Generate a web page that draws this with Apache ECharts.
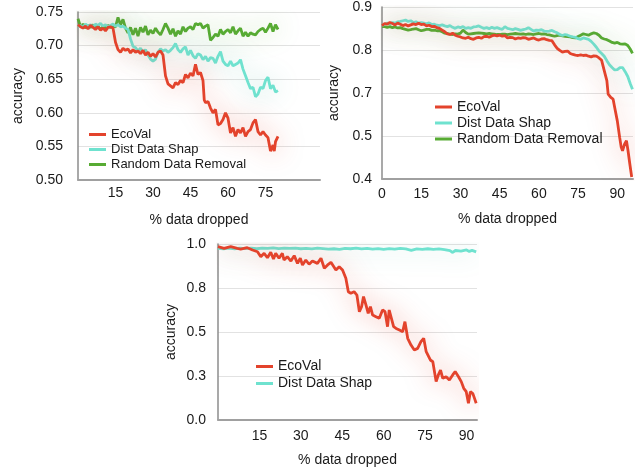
<!DOCTYPE html>
<html>
<head>
<meta charset="utf-8">
<script src="https://cdn.jsdelivr.net/npm/echarts@6/dist/echarts.min.js"></script>
<style>
html,body{margin:0;padding:0;background:#fff;}
#main{width:641px;height:469px;}
</style>
</head>
<body>
<div id="main"></div>
<script>
// ---------- data ----------
const seriesNames = ['EcoVal', 'Dist Data Shap', 'Random Data Removal'];
const xTicksShown1 = [15, 30, 45, 60, 75];
const xTicksShown2 = [0, 15, 30, 45, 60, 75, 90];
const xTicksShown3 = [15, 30, 45, 60, 75, 90];

// chart 1 (top-left)
const c1Eco = [[0,0.731],[1,0.728],[2,0.726],[3,0.729],[4,0.725],[5,0.73],[6,0.727],[7,0.724],[8,0.728],[9,0.723],[10,0.726],[11,0.722],[12,0.727],[13,0.728],[14,0.726],[15,0.705],[16,0.694],[17,0.69],[18,0.696],[19,0.693],[20,0.695],[21,0.689],[22,0.694],[23,0.69],[24,0.692],[25,0.688],[26,0.693],[27,0.686],[28,0.69],[29,0.684],[30,0.688],[31,0.683],[32,0.69],[33,0.692],[34,0.686],[35,0.655],[36,0.643],[37,0.64],[38,0.637],[39,0.645],[40,0.642],[41,0.648],[42,0.645],[43,0.657],[44,0.652],[45,0.659],[46,0.655],[47,0.672],[48,0.657],[49,0.66],[50,0.648],[50.5,0.619],[51,0.615],[52,0.617],[53,0.607],[54,0.6],[55,0.605],[56,0.582],[57,0.584],[58,0.59],[59,0.6],[60,0.592],[61,0.57],[62,0.578],[63,0.565],[64,0.575],[65,0.57],[66,0.578],[67,0.565],[68,0.572],[69,0.575],[70,0.585],[71,0.59],[72,0.572],[73,0.567],[74,0.572],[75,0.567],[76,0.563],[77,0.543],[78,0.552],[78.5,0.543],[79,0.557],[80,0.565]];
const c1Dist = [[0,0.728],[1,0.73],[2,0.727],[3,0.732],[4,0.729],[5,0.731],[6,0.728],[7,0.732],[8,0.73],[9,0.733],[10,0.729],[11,0.731],[12,0.728],[13,0.73],[14,0.732],[15,0.729],[16,0.731],[17,0.728],[18,0.729],[19,0.726],[20,0.724],[21,0.71],[22,0.699],[23,0.697],[24,0.692],[25,0.696],[26,0.69],[27,0.694],[28,0.686],[29,0.68],[30,0.677],[31,0.68],[32,0.69],[33,0.695],[34,0.692],[35,0.694],[36,0.69],[37,0.693],[38,0.697],[39,0.703],[40,0.694],[41,0.69],[42,0.695],[43,0.698],[44,0.686],[45,0.693],[46,0.685],[47,0.681],[48,0.688],[49,0.686],[50,0.679],[51,0.684],[52,0.677],[53,0.682],[54,0.681],[55,0.674],[56,0.684],[57,0.691],[58,0.677],[59,0.672],[60,0.67],[61,0.677],[62,0.67],[63,0.672],[64,0.674],[65,0.679],[66,0.665],[67,0.655],[68,0.645],[69,0.636],[70,0.638],[71,0.624],[72,0.628],[73,0.638],[74,0.636],[75,0.648],[76,0.653],[77,0.636],[78,0.641],[79,0.631],[80,0.633]];
const c1Rand = [[0,0.74],[1,0.728],[2,0.732],[3,0.726],[4,0.73],[5,0.727],[6,0.731],[7,0.725],[8,0.729],[9,0.724],[10,0.728],[11,0.726],[12,0.73],[13,0.727],[14,0.729],[15,0.728],[16,0.742],[17,0.731],[18,0.739],[19,0.726],[20,0.719],[21,0.727],[22,0.716],[23,0.726],[24,0.714],[25,0.727],[26,0.72],[27,0.729],[28,0.716],[29,0.723],[30,0.718],[31,0.726],[32,0.72],[33,0.716],[34,0.724],[35,0.733],[36,0.726],[37,0.717],[38,0.725],[39,0.714],[40,0.722],[41,0.717],[42,0.728],[43,0.721],[44,0.726],[45,0.728],[46,0.724],[47,0.733],[48,0.731],[49,0.733],[50,0.726],[51,0.729],[52,0.731],[53,0.708],[54,0.712],[55,0.717],[56,0.714],[57,0.724],[58,0.717],[59,0.721],[60,0.724],[61,0.719],[62,0.728],[63,0.717],[64,0.722],[65,0.726],[66,0.714],[67,0.72],[68,0.714],[69,0.719],[70,0.717],[71,0.716],[72,0.721],[73,0.724],[74,0.726],[75,0.72],[76,0.726],[77,0.733],[78,0.721],[79,0.731],[80,0.724]];

// chart 2 (top-right)
const c2Eco = [[0,0.846],[1,0.852],[2,0.85],[3,0.855],[4,0.852],[5,0.848],[6,0.853],[7,0.85],[8,0.846],[9,0.849],[10,0.845],[11,0.848],[12,0.851],[13,0.849],[14,0.853],[15,0.849],[16,0.85],[17,0.845],[18,0.847],[19,0.843],[20,0.844],[21,0.84],[22,0.838],[23,0.833],[24,0.828],[25,0.822],[26,0.82],[27,0.824],[28,0.818],[29,0.815],[30,0.813],[31,0.81],[32,0.809],[33,0.812],[34,0.808],[35,0.806],[36,0.81],[37,0.812],[38,0.809],[39,0.814],[40,0.815],[41,0.812],[42,0.816],[43,0.818],[44,0.816],[45,0.818],[46,0.815],[47,0.817],[48,0.81],[49,0.812],[50,0.811],[51,0.807],[52,0.81],[53,0.809],[54,0.811],[55,0.81],[56,0.806],[57,0.808],[58,0.81],[59,0.806],[60,0.804],[61,0.807],[62,0.808],[63,0.805],[64,0.803],[65,0.802],[66,0.79],[67,0.78],[68,0.774],[69,0.769],[70,0.771],[71,0.772],[72,0.765],[73,0.762],[74,0.76],[75,0.759],[76,0.761],[77,0.759],[78,0.76],[79,0.757],[80,0.755],[81,0.758],[82,0.757],[83,0.752],[84,0.745],[85,0.715],[86,0.686],[86.5,0.647],[87.5,0.637],[88.4,0.632],[89,0.608],[90,0.569],[90.9,0.521],[91.5,0.492],[92,0.482],[92.8,0.502],[93.5,0.511],[94.1,0.482],[94.8,0.443],[95.5,0.406]];
const c2Dist = [[0,0.846],[1,0.85],[2,0.853],[3,0.851],[4,0.855],[5,0.853],[6,0.857],[7,0.858],[8,0.86],[9,0.862],[10,0.858],[11,0.86],[12,0.855],[13,0.857],[14,0.853],[15,0.855],[16,0.853],[17,0.851],[18,0.854],[19,0.849],[20,0.85],[21,0.847],[22,0.846],[23,0.848],[24,0.845],[25,0.843],[26,0.846],[27,0.841],[28,0.838],[29,0.842],[30,0.84],[31,0.843],[32,0.838],[33,0.84],[34,0.838],[35,0.842],[36,0.843],[37,0.845],[38,0.841],[39,0.838],[40,0.84],[41,0.837],[42,0.841],[43,0.838],[44,0.84],[45,0.837],[46,0.835],[47,0.843],[48,0.838],[49,0.836],[50,0.834],[51,0.837],[52,0.835],[53,0.832],[54,0.834],[55,0.836],[56,0.84],[57,0.835],[58,0.83],[59,0.833],[60,0.832],[61,0.834],[62,0.83],[63,0.829],[64,0.83],[65,0.832],[66,0.828],[67,0.825],[68,0.82],[69,0.817],[70,0.82],[71,0.818],[72,0.815],[73,0.813],[74,0.812],[75,0.808],[76,0.806],[77,0.81],[78,0.808],[79,0.806],[80,0.8],[81,0.792],[82,0.783],[83,0.772],[84,0.765],[85,0.757],[86,0.744],[87,0.732],[88,0.724],[89,0.717],[90,0.718],[91,0.724],[92,0.724],[93,0.712],[94,0.698],[95,0.676],[95.8,0.661]];
const c2Rand = [[0,0.843],[1,0.843],[2,0.841],[3,0.843],[4,0.84],[5,0.842],[6,0.839],[7,0.84],[8,0.837],[9,0.835],[10,0.833],[11,0.834],[12,0.836],[13,0.837],[14,0.834],[15,0.831],[16,0.833],[17,0.835],[18,0.835],[19,0.832],[20,0.833],[21,0.831],[22,0.831],[23,0.828],[24,0.824],[25,0.823],[26,0.821],[27,0.82],[28,0.822],[29,0.821],[30,0.824],[31,0.833],[32,0.826],[33,0.821],[34,0.822],[35,0.823],[36,0.824],[37,0.825],[38,0.824],[39,0.823],[40,0.822],[41,0.823],[42,0.822],[43,0.821],[44,0.82],[45,0.82],[46,0.821],[47,0.821],[48,0.82],[49,0.821],[50,0.822],[51,0.823],[52,0.822],[53,0.821],[54,0.822],[55,0.82],[56,0.822],[57,0.821],[58,0.82],[59,0.822],[60,0.823],[61,0.821],[62,0.822],[63,0.82],[64,0.819],[65,0.817],[66,0.815],[67,0.817],[68,0.818],[69,0.816],[70,0.815],[71,0.814],[72,0.813],[73,0.811],[74,0.81],[75,0.814],[76,0.818],[77,0.822],[78,0.82],[79,0.818],[80,0.822],[81,0.825],[82,0.823],[83,0.818],[84,0.81],[85,0.807],[86,0.805],[87,0.801],[88,0.797],[89,0.795],[90,0.797],[91,0.793],[92,0.792],[93,0.793],[94,0.788],[95,0.777],[95.8,0.765]];

// chart 3 (bottom)
const c3Eco = [[0,0.985],[2.2,0.975],[4.6,0.985],[7,0.975],[8.2,0.971],[10.6,0.979],[12.5,0.966],[14.3,0.956],[15.5,0.928],[16.7,0.947],[17.9,0.922],[19.1,0.953],[20.1,0.915],[20.9,0.947],[22.1,0.919],[23.3,0.947],[23.9,0.909],[25.1,0.928],[26.4,0.903],[27.6,0.934],[28.8,0.89],[29.8,0.919],[30.6,0.881],[31.8,0.909],[33,0.885],[34.2,0.903],[36,0.89],[37.3,0.919],[38.5,0.862],[39.7,0.881],[40.9,0.896],[42.7,0.852],[43.9,0.871],[45.1,0.852],[46.3,0.805],[47.2,0.729],[48.1,0.72],[49.3,0.729],[50.3,0.71],[51.2,0.615],[52,0.644],[52.7,0.701],[53.6,0.653],[54.4,0.606],[55.2,0.644],[56,0.596],[57.2,0.587],[58.4,0.578],[59.6,0.625],[60.5,0.615],[61.4,0.53],[62,0.625],[62.6,0.634],[63.6,0.53],[64.5,0.52],[65.7,0.511],[66.9,0.502],[67.7,0.559],[68.7,0.464],[69.9,0.426],[71.1,0.398],[72.3,0.407],[73.5,0.445],[74.5,0.464],[75.4,0.388],[76,0.398],[76.9,0.341],[77.8,0.331],[79,0.218],[79.8,0.256],[80.6,0.284],[81.4,0.237],[82.6,0.246],[83.8,0.227],[85,0.256],[85.9,0.275],[87.1,0.246],[88.1,0.218],[89,0.18],[89.9,0.161],[90.7,0.095],[91.4,0.161],[92.3,0.15],[92.9,0.123],[93.5,0.095]];
const c3Dist = [[0,0.975],[2,0.972],[4,0.976],[6,0.973],[8,0.977],[10,0.974],[12,0.976],[14,0.973],[16,0.977],[18,0.975],[20,0.978],[22,0.974],[24,0.977],[26,0.975],[28,0.976],[30,0.973],[32,0.975],[34,0.972],[36,0.976],[38,0.974],[40,0.971],[42,0.973],[44,0.97],[46,0.975],[48,0.973],[50,0.976],[52,0.972],[54,0.975],[56,0.971],[58,0.974],[60,0.97],[62,0.974],[64,0.971],[66,0.975],[68,0.972],[70,0.964],[72,0.972],[74,0.969],[76,0.973],[78,0.97],[80,0.972],[82,0.968],[84,0.962],[85,0.952],[86,0.963],[88,0.96],[90,0.966],[91,0.958],[92,0.964],[93.5,0.955]];

// ---------- style ----------
const FONT = '"Liberation Sans", Arial, Helvetica, sans-serif';
const COLORS = { 'EcoVal': '#e3432c', 'Dist Data Shap': '#6fe2cf', 'Random Data Removal': '#57ab33' };
const GLOW = { 'EcoVal': 'rgba(227,67,44,0.5)', 'Dist Data Shap': 'rgba(60,170,150,0.4)', 'Random Data Removal': 'rgba(87,171,51,0.4)' };

function xAxis(gi, max, shown, labelMargin) {
  return {
    type: 'value', gridIndex: gi, min: 0, max: max, interval: 15,
    name: '% data dropped', nameLocation: 'middle', nameGap: 33,
    nameTextStyle: { fontFamily: FONT, fontSize: 14, color: '#1a1a1a' },
    axisLine: { show: true, lineStyle: { color: '#a0a0a0', width: 2 } },
    axisTick: { show: false },
    splitLine: { show: false },
    axisLabel: {
      fontFamily: FONT, fontSize: 14, color: '#1a1a1a', margin: labelMargin,
      showMaxLabel: true,
      formatter: v => (shown.indexOf(Math.round(v * 1000) / 1000) >= 0 ? String(Math.round(v)) : '')
    }
  };
}
function yAxis(gi, min, max, interval, digits, labelMargin, nameGap) {
  return {
    type: 'value', gridIndex: gi, min: min, max: max, interval: interval,
    name: 'accuracy', nameLocation: 'middle', nameGap: nameGap, nameRotate: 90,
    nameTextStyle: { fontFamily: FONT, fontSize: 14, color: '#1a1a1a' },
    axisLine: { show: true, lineStyle: { color: '#8c8c8c', width: 1.5 } },
    axisTick: { show: false },
    splitLine: { show: true, lineStyle: { color: '#e2e2e2', width: 1 } },
    axisLabel: {
      fontFamily: FONT, fontSize: 14, color: '#1a1a1a', margin: labelMargin,
      formatter: v => {
        const p = Math.pow(10, digits);
        return (Math.round(v * p + 1e-6) / p).toFixed(digits);
      }
    }
  };
}
function line(name, data, gi) {
  return {
    name: name, type: 'line', xAxisIndex: gi, yAxisIndex: gi, data: data,
    showSymbol: false, symbol: 'none', smooth: false,
    color: COLORS[name],
    lineStyle: { width: 2.8, color: COLORS[name], shadowBlur: 24, shadowColor: GLOW[name] },
    emphasis: { disabled: true }
  };
}
function legend(left, top, names, fontSize, lh) {
  return {
    orient: 'vertical', left: left, top: top, padding: 0, itemGap: 0,
    icon: 'rect', itemWidth: 17, itemHeight: 3,
    data: names,
    textStyle: { fontFamily: FONT, fontSize: fontSize, color: '#1a1a1a', lineHeight: lh, height: lh, padding: [0, 0, 0, 0] },
    selectedMode: false
  };
}

const chart = echarts.init(document.getElementById('main'), null, { renderer: 'canvas' });
chart.setOption({
  animation: false,
  backgroundColor: '#ffffff',
  grid: [
    { left: 78, top: 12, width: 242, height: 168, outerBoundsMode: 'none' },
    { left: 382, top: 7, width: 251, height: 172, outerBoundsMode: 'none' },
    { left: 218, top: 244, width: 259, height: 176, outerBoundsMode: 'none' }
  ],
  xAxis: [
    xAxis(0, 96.8, xTicksShown1, 6),
    xAxis(1, 96, xTicksShown2, 8),
    xAxis(2, 93.8, xTicksShown3, 9)
  ],
  yAxis: [
    yAxis(0, 0.5, 0.75, 0.05, 2, 15, 53),
    yAxis(1, 0.4, 0.9, 0.125, 1, 10, 41),
    yAxis(2, 0, 1, 0.25, 1, 12, 40)
  ],
  legend: [
    legend(89, 127, seriesNames, 13, 15),
    legend(435, 99, seriesNames, 14, 16),
    legend(256, 358, seriesNames.slice(0, 2), 14, 17)
  ],
  series: [
    line('Random Data Removal', c1Rand, 0),
    line('Dist Data Shap', c1Dist, 0),
    line('EcoVal', c1Eco, 0),
    line('Random Data Removal', c2Rand, 1),
    line('Dist Data Shap', c2Dist, 1),
    line('EcoVal', c2Eco, 1),
    line('Dist Data Shap', c3Dist, 2),
    line('EcoVal', c3Eco, 2)
  ]
});
</script>
</body>
</html>
